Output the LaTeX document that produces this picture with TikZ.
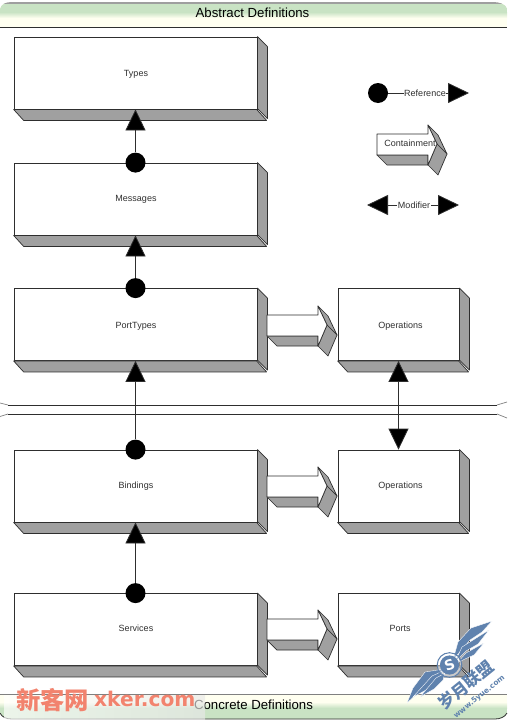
\documentclass[tikz,border=0pt]{standalone}
\usepackage{fontspec}
\setmainfont{Liberation Sans}
\newfontfamily\cjkfont{Noto Sans CJK SC}
\newfontfamily\wmfont{DejaVu Sans}
\usetikzlibrary{arrows.meta}
\definecolor{shadegrey}{HTML}{A0A0A0}
\definecolor{inkline}{HTML}{2E2E2E}
\definecolor{labelgrey}{HTML}{303030}
\definecolor{bandgreen}{HTML}{C9E3C4}
\definecolor{bandyellow}{HTML}{FFFFF0}
\definecolor{wmred}{HTML}{F2836E}
\definecolor{wmblue}{HTML}{5F82AE}
\tikzset{
  boxbase/.style={draw=inkline,line width=0.8pt,fill=white,inner sep=0pt,font=\fontsize{9}{10}\selectfont,text=labelgrey},
  widebox/.style={boxbase,minimum width=243pt,minimum height=72pt},
  smallbox/.style={boxbase,minimum width=121pt,minimum height=72pt},
  lab/.style={text height=#1,text depth=0pt},
  facet/.style={draw=inkline,line width=0.7pt,fill=shadegrey,line join=round},
  front/.style={draw=inkline,line width=0.7pt,fill=white,line join=round},
  refdot/.style={circle,fill=black,inner sep=0pt,minimum size=20pt},
  reflink/.style={draw=inkline,line width=0.8pt,-{Triangle[width=20pt,length=21pt,fill=black]}},
  biglink/.style={draw=inkline,line width=0.8pt,{Triangle[width=20pt,length=21pt,fill=black]}-{Triangle[width=20pt,length=21pt,fill=black]}},
  legendtext/.style={fill=white,inner sep=0.6pt,font=\fontsize{9}{10}\selectfont,text=labelgrey},
  headtext/.style={inner sep=0pt,font=\fontsize{13.2}{15}\selectfont,text=black},
  feather/.style={fill=wmblue,draw=white,line width=0.35pt,line join=round}
}
\newcommand{\depthbox}[2]{%
  \path[facet] (#1.north east) -- ++(10,10) -- ++(0,72) -- ++(-10,-10) -- cycle;
  \path[facet] (#1.south west) -- ++(10,11) -- ++(#2,0) -- ++(-10,-11) -- cycle;
}
\newcommand{\blockarrow}[2]{%
  \begin{scope}[shift={(#1,#2)}]
    \path[facet] (267,336) -- (277,346) -- (318,346) -- (318,336) -- cycle;
    \path[facet] (318,306) -- (327,325) -- (337,335) -- (328,316) -- cycle;
    \path[facet] (318,346) -- (327,325) -- (337,335) -- (328,356) -- cycle;
    \path[front] (267,315) -- (318,315) -- (318,306) -- (327,325) -- (318,346) -- (318,336) -- (267,336) -- cycle;
  \end{scope}
}
\begin{document}
\begin{tikzpicture}[x=1pt,y=-1pt]
\useasboundingbox (0,0) rectangle (507,723);
\fill[white] (0,0) rectangle (507,723);

% top band
\begin{scope}
  \clip (0,27) -- (0,9) .. controls (1,4) and (6,2) .. (12,2) -- (493,2) .. controls (499,2) and (505,4) .. (507,8) -- (507,27) -- cycle;
  \fill[bandyellow] (0,0) rectangle (507,27);
  \fill[bandgreen] (0,4) rectangle (507,12);
  \shade[top color=bandgreen,bottom color=bandyellow] (0,12) rectangle (507,18);
  \fill[gray!75] (0,0) rectangle (507,4);
\end{scope}
\draw[inkline,line width=0.8pt] (0,27) -- (507,27);

% panel edges
\draw[inkline,line width=0.8pt] (8,405) -- (497,405);
\draw[inkline,line width=0.8pt] (8,414) -- (497,414);
\draw[gray,line width=0.7pt] (0,403) -- (8,405);
\draw[gray,line width=0.7pt] (497,405) -- (507,402);
\draw[gray,line width=0.7pt] (0,416.5) -- (8,414);
\draw[gray,line width=0.7pt] (497,414) -- (507,418);

% bottom band
\begin{scope}
  \clip (0,694) -- (507,694) -- (507,713) .. controls (505,717) and (500,719) .. (495,719) -- (12,719) .. controls (6,719) and (2,717) .. (0,713) -- cycle;
  \fill[bandyellow] (0,694) rectangle (507,720);
  \shade[top color=bandyellow,bottom color=bandgreen] (0,702) rectangle (507,708);
  \fill[bandgreen] (0,708) rectangle (507,720);
\end{scope}
\draw[gray,line width=0.8pt] (0,694) -- (507,694);
\draw[inkline,line width=0.8pt] (0,713) .. controls (2,717) and (6,719) .. (12,719) -- (495,719) .. controls (500,719) and (505,717) .. (507,713);

\node[headtext] (abstract) at (252.5,13) {Abstract Definitions};
\node[headtext] (concrete) at (253.5,705) {Concrete Definitions};

% boxes
\node[widebox,lab=7.5pt] (types) at (135.5,73) {\hspace*{1pt}Types};
\node[widebox] (messages) at (135.5,199) {\hspace*{1pt}Messages};
\node[widebox,lab=7.5pt] (porttypes) at (135.5,324.5) {\hspace*{1pt}PortTypes};
\node[smallbox,lab=8pt] (opsa) at (398.5,324.5) {\hspace*{4pt}Operations};
\node[widebox] (bindings) at (135.5,486) {\hspace*{1pt}Bindings};
\node[smallbox] (opsb) at (398.5,486) {\hspace*{4pt}Operations};
\node[widebox,lab=4.6pt] (services) at (135.5,629.5) {\hspace*{1pt}Services};
\node[smallbox,lab=4.6pt] (ports) at (398.5,629.5) {\hspace*{3pt}Ports};
\depthbox{types}{243}
\depthbox{messages}{243}
\depthbox{porttypes}{243}
\depthbox{opsa}{121}
\depthbox{bindings}{243}
\depthbox{opsb}{121}
\depthbox{services}{243}
\depthbox{ports}{121}

% containment arrows
\blockarrow{0}{0}
\blockarrow{0}{161}
\blockarrow{0}{304}

% references
\node[refdot] (dotm) at (messages.north) {};
\node[refdot] (dotp) at (porttypes.north) {};
\node[refdot] (dotb) at (bindings.north) {};
\node[refdot] (dots) at (services.north) {};
\draw[reflink] (dotm) -- (types.south);
\draw[reflink] (dotp) -- (messages.south);
\draw[reflink] (dotb) -- (porttypes.south);
\draw[reflink] (dots) -- (bindings.south);
\draw[biglink] (opsa.south) -- (opsb.north);

% legend
\node[refdot] (legdot) at (378,93) {};
\coordinate (legtip) at (469,93);
\draw[reflink] (legdot) -- (legtip);
\node[legendtext] (legref) at (425,93) {Reference};
\blockarrow{110}{-181}
\node[inner sep=0pt,font=\fontsize{9}{10}\selectfont,text=labelgrey] (legcon) at (410,143) {Containment};
\coordinate (modl) at (367,205);
\coordinate (modr) at (459,205);
\draw[biglink] (modl) -- (modr);
\node[legendtext] (legmod) at (414,205) {Modifier};

% watermark left
\shade[left color=white,right color=white!82!gray,opacity=0.65] (4,695) rectangle (205,719);
\node[inner sep=0pt,anchor=west,text=wmred,font=\cjkfont\bfseries\fontsize{24.3}{25}\selectfont] (wmcn) at (16,700) {新客网};
\node[inner sep=0pt,anchor=west,text=wmred,font=\wmfont\bfseries\fontsize{20.2}{22}\selectfont] (wmen) at (94,699) {xker.com};

% watermark logo
\path[feather] (453,660) -- (458,642) -- (471,628) -- (492,621) -- (482,632) -- (470,640) -- cycle;
\path[feather] (455,662) -- (462,647) -- (489,630) -- (478,644) -- (466,651) -- cycle;
\path[feather] (457,663) -- (466,653) -- (484,643) -- (474,655) -- (465,659) -- cycle;
\path[feather] (444,669) -- (425,672) -- (413,688) -- (407,703) -- (421,690) -- (432,682) -- cycle;
\path[feather] (443,671) -- (432,676) -- (413,697) -- (426,690) -- (440,679) -- cycle;
\path[feather] (445,673) -- (436,678) -- (420,697) -- (434,689) -- (443,680) -- cycle;
\draw[wmblue,line width=1pt,fill=white,fill opacity=0.45] (449.5,665) circle (12.3pt);
\fill[wmblue] (449.5,665) circle (9.6pt);
\node[inner sep=0pt,text=white,rotate=20,font=\wmfont\bfseries\fontsize{14}{14}\selectfont] (wms) at (449.5,665) {S};
\node[inner sep=0pt,text=wmblue,rotate=39,font=\cjkfont\bfseries\fontsize{16.5}{17}\selectfont] (wmname) at (466,685) {岁月联盟};
\node[inner sep=0pt,text=wmblue,rotate=39,font=\wmfont\bfseries\fontsize{7.4}{8}\selectfont] (wmurl) at (479.5,697) {www.5yue.com};
\end{tikzpicture}
\end{document}
